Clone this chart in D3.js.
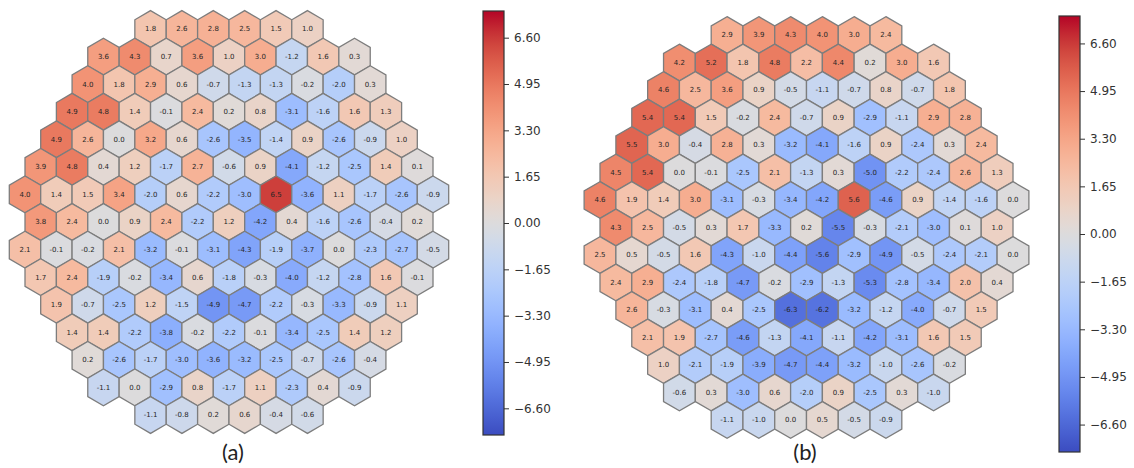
<!DOCTYPE html>
<html>
<head>
<meta charset="utf-8">
<script src="https://cdn.jsdelivr.net/npm/d3@7"></script>
<style>
  body { margin: 0; background: #fff; }
  svg { display: block; }
</style>
</head>
<body>
<div id="chart"></div>
<script>
/* Data (top to bottom) */

var valuesA = [
  [1.8, 2.6, 2.8, 2.5, 1.5, 1.0],
  [3.6, 4.3, 0.7, 3.6, 1.0, 3.0, -1.2, 1.6, 0.3],
  [4.0, 1.8, 2.9, 0.6, -0.7, -1.3, -1.3, -0.2, -2.0, 0.3],
  [4.9, 4.8, 1.4, -0.1, 2.4, 0.2, 0.8, -3.1, -1.6, 1.6, 1.3],
  [4.9, 2.6, 0.0, 3.2, 0.6, -2.6, -3.5, -1.4, 0.9, -2.6, -0.9, 1.0],
  [3.9, 4.8, 0.4, 1.2, -1.7, 2.7, -0.6, 0.9, -4.1, -1.2, -2.5, 1.4, 0.1],
  [4.0, 1.4, 1.5, 3.4, -2.0, 0.6, -2.2, -3.0, 6.5, -3.6, 1.1, -1.7, -2.6, -0.9],
  [3.8, 2.4, 0.0, 0.9, 2.4, -2.2, 1.2, -4.2, 0.4, -1.6, -2.6, -0.4, 0.2],
  [2.1, -0.1, -0.2, 2.1, -3.2, -0.1, -3.1, -4.3, -1.9, -3.7, 0.0, -2.3, -2.7, -0.5],
  [1.7, 2.4, -1.9, -0.2, -3.4, 0.6, -1.8, -0.3, -4.0, -1.2, -2.8, 1.6, -0.1],
  [1.9, -0.7, -2.5, 1.2, -1.5, -4.9, -4.7, -2.2, -0.3, -3.3, -0.9, 1.1],
  [1.4, 1.4, -2.2, -3.8, -0.2, -2.2, -0.1, -3.4, -2.5, 1.4, 1.2],
  [0.2, -2.6, -1.7, -3.0, -3.6, -3.2, -2.5, -0.7, -2.6, -0.4],
  [-1.1, 0.0, -2.9, 0.8, -1.7, 1.1, -2.3, 0.4, -0.9],
  [-1.1, -0.8, 0.2, 0.6, -0.4, -0.6]
]

var valuesB = [
  [2.9, 3.9, 4.3, 4.0, 3.0, 2.4],
  [4.2, 5.2, 1.8, 4.8, 2.2, 4.4, 0.2, 3.0, 1.6],
  [4.6, 2.5, 3.6, 0.9, -0.5, -1.1, -0.7, 0.8, -0.7, 1.8],
  [5.4, 5.4, 1.5, -0.2, 2.4, -0.7, 0.9, -2.9, -1.1, 2.9, 2.8],
  [5.5, 3.0, -0.4, 2.8, 0.3, -3.2, -4.1, -1.6, 0.9, -2.4, 0.3, 2.4],
  [4.5, 5.4, 0.0, -0.1, -2.5, 2.1, -1.3, 0.3, -5.0, -2.2, -2.4, 2.6, 1.3],
  [4.6, 1.9, 1.4, 3.0, -3.1, -0.3, -3.4, -4.2, 5.6, -4.6, 0.9, -1.4, -1.6, 0.0],
  [4.3, 2.5, -0.5, 0.3, 1.7, -3.3, 0.2, -5.5, -0.3, -2.1, -3.0, 0.1, 1.0],
  [2.5, 0.5, -0.5, 1.6, -4.3, -1.0, -4.4, -5.6, -2.9, -4.9, -0.5, -2.4, -2.1, 0.0],
  [2.4, 2.9, -2.4, -1.8, -4.7, -0.2, -2.9, -1.3, -5.3, -2.8, -3.4, 2.0, 0.4],
  [2.6, -0.3, -3.1, 0.4, -2.5, -6.3, -6.2, -3.2, -1.2, -4.0, -0.7, 1.5],
  [2.1, 1.9, -2.7, -4.6, -1.3, -4.1, -1.1, -4.2, -3.1, 1.6, 1.5],
  [1.0, -2.1, -1.9, -3.9, -4.7, -4.4, -3.2, -1.0, -2.6, -0.2],
  [-0.6, 0.3, -3.0, 0.6, -2.0, 0.9, -2.5, 0.3, -1.0],
  [-1.1, -1.0, 0.0, 0.5, -0.5, -0.9]
]

var colorbarTicks = [6.60, 4.95, 3.30, 1.65, 0.00, -1.65, -3.30, -4.95, -6.60]
var panelLabels = ["(a)", "(b)"]
var valueRange = [-7.55, 7.55]

// matplotlib "coolwarm" control colours (low -> high)
var coolwarm = ["#3b4cc0", "#4d68d7", "#6282ea", "#779af7", "#8db0fe", "#a3c2ff",
  "#b8d0f9", "#cad8ef", "#dddddd", "#ecd3c5", "#f5c4ad", "#f7b194", "#f49a7b",
  "#ec7f63", "#de604d", "#cb3e38", "#b40426"]

/* Layout */

var width = 1134, height = 468
var maxHalfCol = 26   // widest row spans half-columns 0..26
var nRows = 15

var svg = d3.select("#chart").append("svg")
  .attr("width", width)
  .attr("height", height)

var color = d3.scaleSequential(d3.interpolateRgbBasis(coolwarm)).domain(valueRange)

var panels = [
  { values: valuesA, x0: 25, x1: 433, y0: 29, y1: 415, bar: { x: 483, y: 11, w: 21, h: 424 }, label: panelLabels[0], lx: 233 },
  { values: valuesB, x0: 600, x1: 1013, y0: 35, y1: 420, bar: { x: 1059, y: 16, w: 21, h: 436 }, label: panelLabels[1], lx: 805 }
]

// gradient for colourbars
var defs = svg.append("defs")
var grad = defs.append("linearGradient")
  .attr("id", "cwGrad")
  .attr("x1", 0).attr("y1", 1).attr("x2", 0).attr("y2", 0)
d3.range(0, 1.0001, 0.02).forEach(t => {
  grad.append("stop")
    .attr("offset", t)
    .attr("stop-color", d3.interpolateRgbBasis(coolwarm)(t))
})

panels.forEach(p => {
  var xScale = d3.scaleLinear().domain([0, maxHalfCol]).range([p.x0, p.x1])
  var yScale = d3.scaleLinear().domain([0, nRows - 1]).range([p.y0, p.y1])
  var halfW = (xScale(1) - xScale(0))       // half of the hex width
  var rad = (yScale(1) - yScale(0)) / 1.5   // vertex radius

  // flatten rows into cells
  var cells = []
  p.values.forEach((row, r) => {
    var start = (maxHalfCol - 2 * (row.length - 1)) / 2
    row.forEach((v, i) => {
      cells.push({ row: r, k: start + 2 * i, value: v })
    })
  })

  var hexPoints = [[0, -rad], [halfW, -rad / 2], [halfW, rad / 2], [0, rad], [-halfW, rad / 2], [-halfW, -rad / 2]]
    .map(d => d.join(",")).join(" ")

  var g = svg.append("g")
  var cell = g.selectAll("g.cell")
    .data(cells)
    .enter().append("g")
    .attr("class", "cell")
    .attr("transform", d => `translate(${xScale(d.k)},${yScale(d.row)})`)

  cell.append("polygon")
    .attr("points", hexPoints)
    .attr("fill", d => color(d.value))
    .attr("stroke", "#7d7d7d")
    .attr("stroke-width", 1.3)

  cell.append("text")
    .attr("text-anchor", "middle")
    .attr("dy", "0.35em")
    .attr("font-family", "DejaVu Sans, sans-serif")
    .attr("font-size", 7)
    .attr("fill", "#262626")
    .text(d => d.value.toFixed(1))

  // colourbar
  var b = p.bar
  var cbScale = d3.scaleLinear().domain(valueRange).range([b.y + b.h, b.y])
  svg.append("rect")
    .attr("x", b.x).attr("y", b.y)
    .attr("width", b.w).attr("height", b.h)
    .attr("fill", "url(#cwGrad)")
    .attr("stroke", "#333")
    .attr("stroke-width", 1.2)

  var axis = d3.axisRight(cbScale)
    .tickValues(colorbarTicks)
    .tickFormat(d3.format(".2f"))
    .tickSize(5)
    .tickPadding(5)
  var ax = svg.append("g")
    .attr("transform", `translate(${b.x + b.w},0)`)
    .call(axis)
  ax.select(".domain").remove()
  ax.selectAll("line").attr("stroke", "#333")
  ax.selectAll("text")
    .attr("font-family", "DejaVu Sans, sans-serif")
    .attr("font-size", 12)
    .attr("fill", "#333")

  svg.append("text")
    .attr("x", p.lx).attr("y", 452)
    .attr("dy", "0.35em")
    .attr("text-anchor", "middle")
    .attr("font-family", "Lato, Open Sans, sans-serif")
    .attr("font-size", 22)
    .attr("fill", "#222")
    .text(p.label)
})
</script>
</body>
</html>
